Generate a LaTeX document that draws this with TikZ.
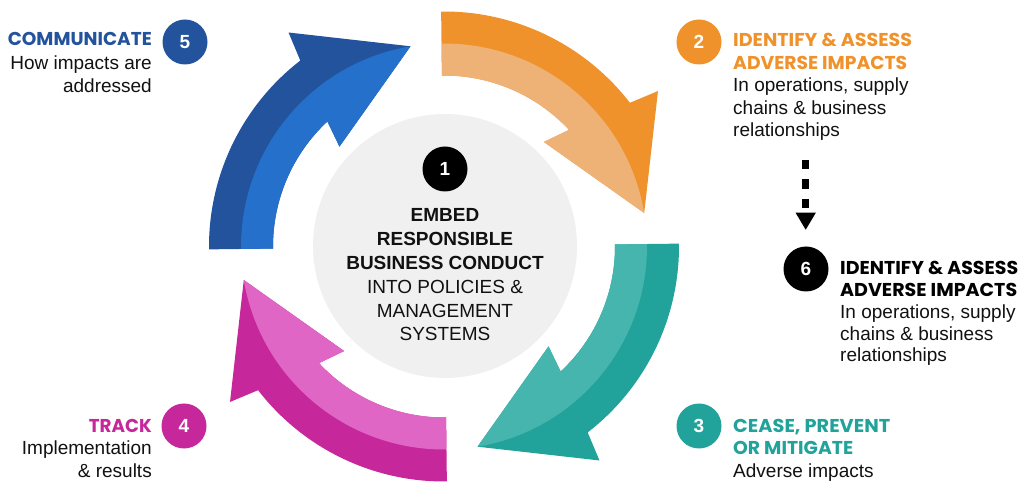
\documentclass[tikz,border=0pt]{standalone}
\usepackage{fontspec}
\usepackage{graphicx}
\setmainfont{Liberation Sans}
\newfontfamily\headfont{Poppins}
\usetikzlibrary{arrows.meta,calc}
\definecolor{bluedk}{HTML}{23539C}
\definecolor{bluelt}{HTML}{2470CB}
\definecolor{orgdk}{HTML}{EF922B}
\definecolor{orglt}{HTML}{EEB277}
\definecolor{tealdk}{HTML}{21A39B}
\definecolor{teallt}{HTML}{45B5AE}
\definecolor{magdk}{HTML}{C6289B}
\definecolor{maglt}{HTML}{E066C5}
\definecolor{greyc}{HTML}{F0F0F0}
\definecolor{txt}{HTML}{111111}
\newcommand\cyclearrow[3]{%
  \fill[#2] ($(C)+(#1:235)$) arc[start angle=#1,end angle=#1-53,radius=235]
     -- ($(C)+({#1-54.7}:264.5)$) -- ($(C)+({#1-81.2}:203)$)
     -- ($(C)+({#1-44.4}:144.6)$) -- ($(C)+({#1-47.7}:171)$)
     arc[start angle=#1-47.7,end angle=#1,radius=171] -- cycle;
  \fill[#3] ($(C)+(#1:203)$) arc[start angle=#1,end angle=#1-81.2,radius=203]
     -- ($(C)+({#1-44.4}:144.6)$) -- ($(C)+({#1-47.7}:171)$)
     arc[start angle=#1-47.7,end angle=#1,radius=171] -- cycle;
}
% #1 colour, #2 target width, #3 text
\newcommand\hd[3]{{\color{#1}\resizebox{#2pt}{\height}{\headfont\bfseries\fontsize{18.6}{22}\selectfont #3}}}
\begin{document}
\begin{tikzpicture}[x=1pt,y=1pt,
  numc/.style={circle,minimum size=45pt,inner sep=0pt,text=white,
    font=\fontsize{19}{19}\selectfont\bfseries},
  body/.style={inner sep=0pt,text=txt,font=\fontsize{19}{23}\selectfont},
  centertxt/.style={inner sep=0pt,text=txt,align=center,font=\fontsize{19}{23.8}\selectfont}
]
\useasboundingbox (0,0) rectangle (1020,482);
\coordinate (C) at (444,235.5);
\fill[greyc] (445,236) circle[radius=132];
\cyclearrow{90.7}{orgdk}{orglt}
\cyclearrow{0.7}{tealdk}{teallt}
\cyclearrow{270.7}{magdk}{maglt}
\cyclearrow{180.7}{bluedk}{bluelt}

\node[numc,fill=black] (n1) at (445,313) {1};
\node[centertxt,anchor=base] (ctext) at (445,141)
  {\textbf{EMBED}\\\textbf{RESPONSIBLE}\\\textbf{BUSINESS CONDUCT}\\INTO POLICIES \&\\MANAGEMENT\\SYSTEMS};

\node[numc,fill=bluedk] (n5) at (185,440) {5};
\node[body,align=right,anchor=base east,font=\fontsize{19}{23.5}\selectfont] (t5) at (152,389)
  {\hd{bluedk}{144}{COMMUNICATE}\\How impacts are\\addressed};

\node[numc,fill=orgdk] (n2) at (699,440) {2};
\node[body,align=left,anchor=base west,font=\fontsize{19}{22.5}\selectfont] (t2) at (733,345)
  {\hd{orgdk}{179}{IDENTIFY \& ASSESS}\\\hd{orgdk}{174}{ADVERSE IMPACTS}\\In operations, supply\\chains \& business\\relationships};

\node[numc,fill=black] (n6) at (806,213) {6};
\node[body,align=left,anchor=base west,font=\fontsize{19}{21.8}\selectfont] (t6) at (840,120)
  {\hd{black}{178}{IDENTIFY \& ASSESS}\\\hd{black}{177}{ADVERSE IMPACTS}\\In operations, supply\\chains \& business\\relationships};

\node[numc,fill=tealdk] (n3) at (699,56) {3};
\node[body,align=left,anchor=base west,font=\fontsize{19}{22.5}\selectfont] (t3) at (733,5)
  {\hd{tealdk}{157}{CEASE, PREVENT}\\\hd{tealdk}{120}{OR MITIGATE}\\Adverse impacts};

\node[numc,fill=magdk] (n4) at (184,56) {4};
\node[body,align=right,anchor=base east,font=\fontsize{19}{22.5}\selectfont] (t4) at (152,5)
  {\hd{magdk}{63}{TRACK}\\Implementation\\\& results};

\coordinate (dstart) at (805.7,322);
\coordinate (dend) at (805.7,252);
\draw[line width=6.7pt,dash pattern=on 9.5pt off 10pt,
  -{Triangle[length=17.3pt,width=19pt]}] (dstart) -- (dend);
\end{tikzpicture}
\end{document}
